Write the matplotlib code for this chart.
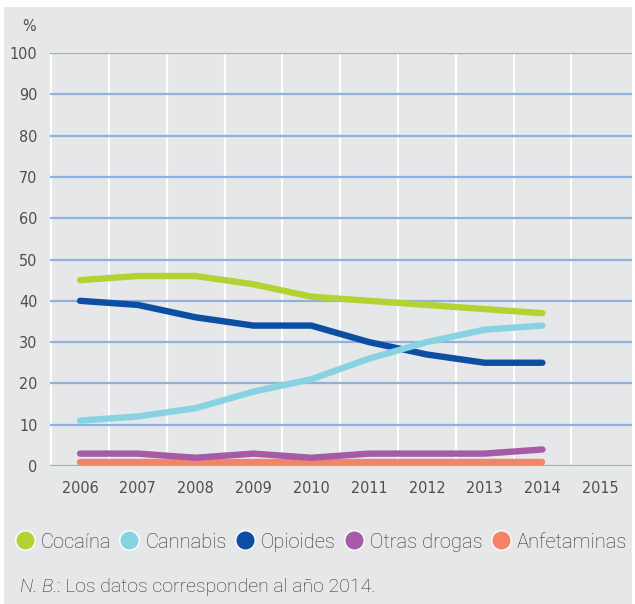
import matplotlib
matplotlib.use("Agg")
import matplotlib.pyplot as plt
from matplotlib.lines import Line2D
from matplotlib.patches import Rectangle

# data
years = [2006, 2007, 2008, 2009, 2010, 2011, 2012, 2013, 2014]
cocaina = [45, 46, 46, 44, 41, 40, 39, 38, 37]
cannabis = [11, 12, 14, 18, 21, 26, 30, 33, 34]
opioides = [40, 39, 36, 34, 34, 30, 27, 25, 25]
otras = [3, 3, 2, 3, 2, 3, 3, 3, 4]
anfetaminas = [1, 1, 1, 1, 1, 1, 1, 1, 1]
xticks = [2006, 2007, 2008, 2009, 2010, 2011, 2012, 2013, 2014, 2015]
yticks = [0, 10, 20, 30, 40, 50, 60, 70, 80, 90, 100]

series = [
    ("Cocaína", cocaina, "#b3d335"),
    ("Cannabis", cannabis, "#88d3e1"),
    ("Opioides", opioides, "#0b4ea2"),
    ("Otras drogas", otras, "#a65ba6"),
    ("Anfetaminas", anfetaminas, "#f5836a"),
]

BG = "#e6e7e9"
W, H = 635, 604
TXT = "#2e2e2e"
TICK = "#4f4f4f"
tick_font = ["DejaVu Sans"]
text_font = ["Roboto", "DejaVu Sans"]

fig = plt.figure(figsize=(W / 100, H / 100), dpi=100)
fig.patch.set_facecolor("white")
fig.add_artist(Rectangle((4 / W, 0), (632 - 4) / W, 1 - 7 / H,
                         transform=fig.transFigure, facecolor=BG,
                         edgecolor="none", zorder=-10))

ax = fig.add_axes([50 / W, 1 - 466 / H, (632 - 50) / W, (466 - 53) / H])
ax.set_facecolor(BG)
ax.set_xlim(2005.48, 2015.55)
ax.set_ylim(0, 100)

# white vertical separators between years, blue horizontal gridlines
for x in [2005.5 + i for i in range(10)]:
    ax.axvline(x, color="white", lw=1.5, zorder=1)
for y in yticks:
    ax.axhline(y, color="#8fb1dc", lw=1.6, zorder=2)

for name, vals, col in series[::-1]:
    ax.plot(years, vals, color=col, lw=4.6, solid_capstyle="round",
            solid_joinstyle="round", zorder=3, clip_on=False)

for s in ax.spines.values():
    s.set_visible(False)
ax.set_xticks(xticks)
ax.set_yticks(yticks)
ax.tick_params(length=0, labelsize=11.5, labelcolor=TICK)
ax.tick_params(axis="x", pad=11)
ax.tick_params(axis="y", pad=9)
for lab in ax.get_xticklabels() + ax.get_yticklabels():
    lab.set_family(tick_font)
    lab.set_stretch("condensed")
ax.text(-14 / 582, 1.045, "%", transform=ax.transAxes, ha="right", va="bottom",
        fontsize=11.5, color=TICK, family=tick_font, stretch="condensed")

handles = [Line2D([], [], marker="o", ls="none", markersize=14,
                  markerfacecolor=c, markeredgecolor="white", markeredgewidth=1)
           for _, _, c in series]
fig.legend(handles, [n for n, _, _ in series], loc="center", ncol=5,
           bbox_to_anchor=(321 / W, 1 - 542 / H), frameon=False,
           prop={"family": text_font, "size": 14.5, "weight": "light"},
           labelcolor=TXT, handletextpad=0.3, columnspacing=0.4,
           handlelength=1.0, borderaxespad=0)

nb = fig.text(20 / W, 1 - 587 / H, "N. B.", style="italic", fontsize=14,
              color=TXT, family=text_font, weight="light", va="center")
ax.annotate(": Los datos corresponden al año 2014.", xy=(1, 0), xycoords=nb,
            ha="left", va="bottom", fontsize=14, color=TXT,
            family=text_font, weight="light", annotation_clip=False)

fig.savefig("out.png", dpi=100, facecolor="white")
